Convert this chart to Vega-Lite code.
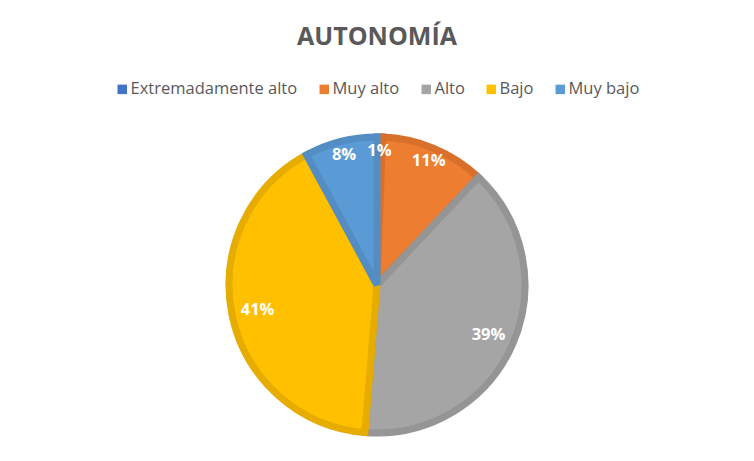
{
  "$schema": "https://vega.github.io/schema/vega-lite/v6.json",
  "width": 754,
  "height": 461,
  "autosize": {"type": "fit", "contains": "padding"},
  "padding": {"top": 25, "bottom": 0, "left": 0, "right": 0},
  "background": "white",
  "title": {
    "text": "AUTONOMÍA",
    "font": "Open Sans",
    "fontSize": 25,
    "fontWeight": "bold",
    "color": "#595959",
    "anchor": "middle",
    "offset": 31
  },
  "data": {
    "values": [
      {"cat": "Extremadamente alto", "v": 0.6, "label": "1%", "ord": 1},
      {"cat": "Muy alto", "v": 11.4, "label": "11%", "ord": 2},
      {"cat": "Alto", "v": 39.3, "label": "39%", "ord": 3},
      {"cat": "Bajo", "v": 40.8, "label": "41%", "ord": 4},
      {"cat": "Muy bajo", "v": 7.9, "label": "8%", "ord": 5}
    ]
  },
  "encoding": {
    "theta": {"field": "v", "type": "quantitative", "stack": true},
    "order": {"field": "ord", "type": "quantitative"}
  },
  "layer": [
    {
      "mark": {"type": "arc", "outerRadius": 148, "strokeWidth": 7, "strokeJoin": "miter"},
      "encoding": {
        "color": {
          "field": "cat",
          "type": "nominal",
          "sort": ["Extremadamente alto", "Muy alto", "Alto", "Bajo", "Muy bajo"],
          "scale": {
            "domain": ["Extremadamente alto", "Muy alto", "Alto", "Bajo", "Muy bajo"],
            "range": ["#4472C4", "#ED7D31", "#A5A5A5", "#FFC000", "#5B9BD5"]
          },
          "legend": {
            "orient": "top",
            "direction": "horizontal",
            "title": null,
            "offset": 11,
            "symbolType": "square",
            "symbolSize": 90,
            "symbolStrokeWidth": 0,
            "labelFont": "Open Sans",
            "labelFontSize": 16.5,
            "labelColor": "#595959",
            "labelLimit": 400,
            "columnPadding": 18,
            "symbolOffset": 0,
            "labelOffset": 0
          }
        },
        "stroke": {
          "field": "cat",
          "type": "nominal",
          "scale": {
            "domain": ["Extremadamente alto", "Muy alto", "Alto", "Bajo", "Muy bajo"],
            "range": ["#3F68B3", "#D8702B", "#959595", "#E6AD00", "#538DC3"]
          },
          "legend": null
        }
      }
    },
    {
      "mark": {"type": "text", "radius": 122, "font": "Open Sans", "fontSize": 16.5, "fontWeight": "bold", "color": "white"},
      "encoding": {
        "text": {"condition": {"test": "datum.v >= 12", "field": "label"}, "value": ""}
      }
    },
    {
      "mark": {"type": "text", "radius": 134, "font": "Open Sans", "fontSize": 16.5, "fontWeight": "bold", "color": "white"},
      "encoding": {
        "text": {"condition": {"test": "datum.v < 12", "field": "label"}, "value": ""}
      }
    }
  ],
  "config": {
    "view": {"stroke": null},
    "legend": {"layout": {"top": {"anchor": "middle"}}}
  }
}
